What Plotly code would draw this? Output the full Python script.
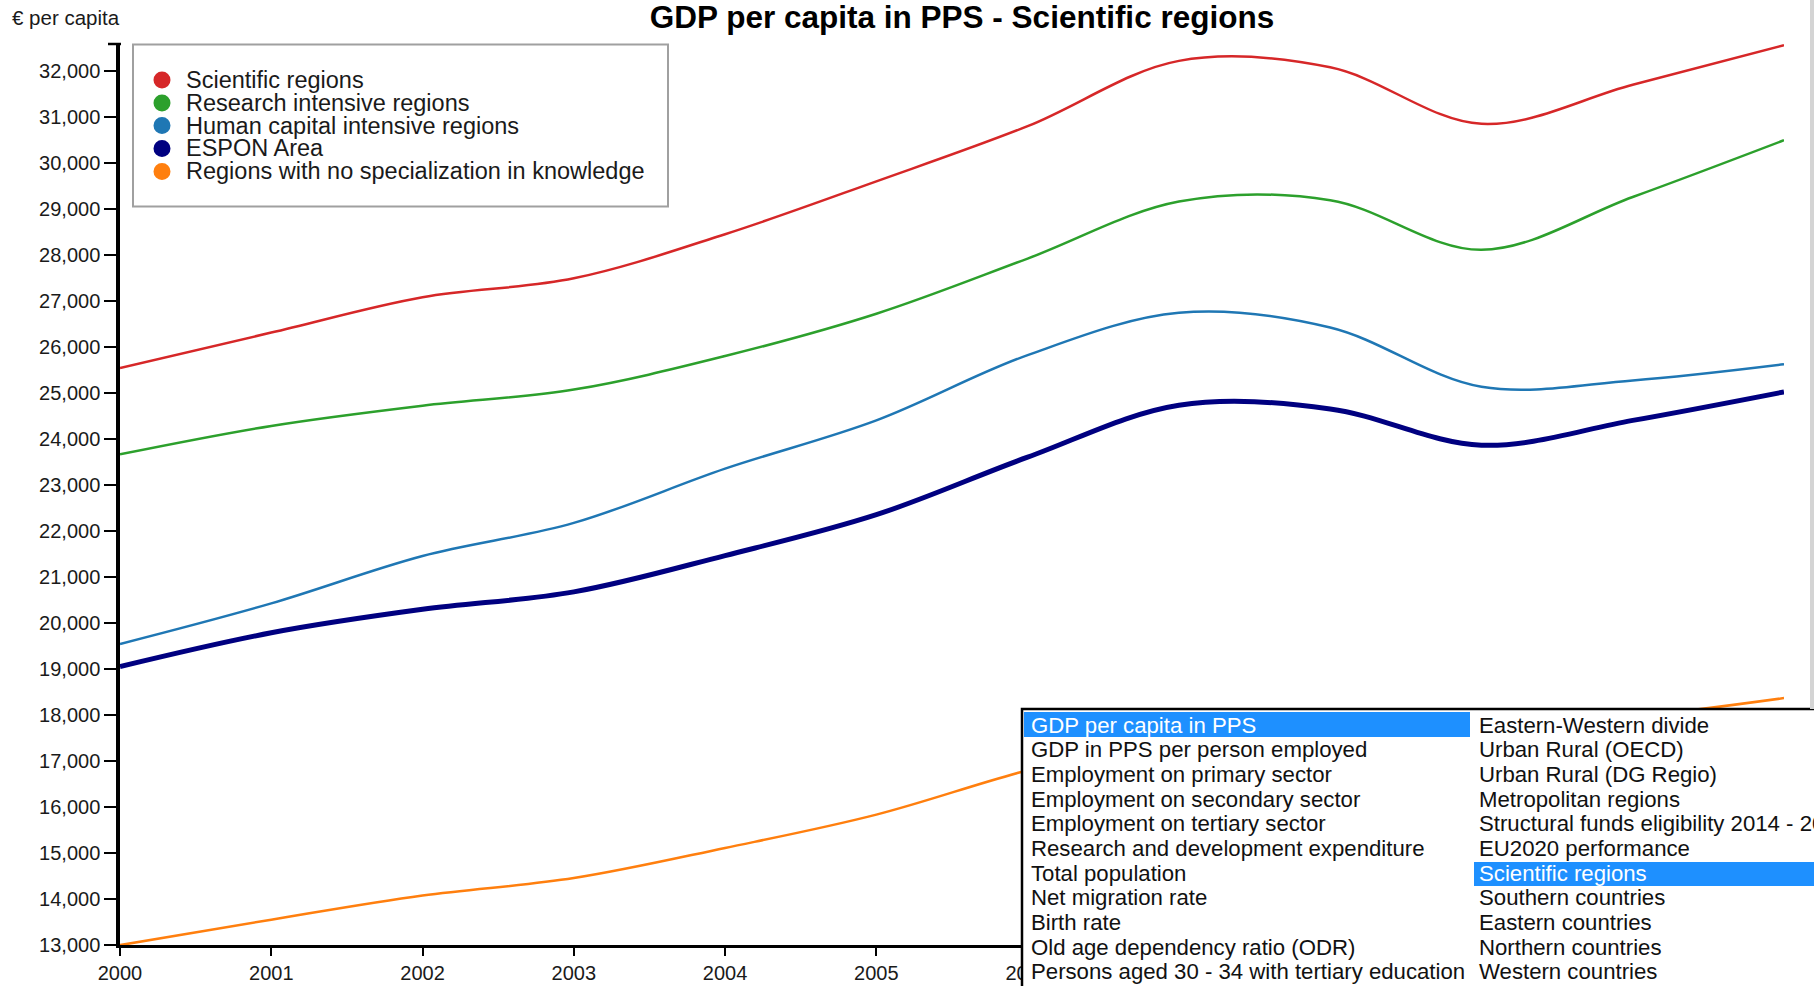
import plotly.graph_objects as go

# ---------------- data ----------------
years = [2000, 2001, 2002, 2003, 2004, 2005, 2006, 2007, 2008, 2009, 2010, 2011]

series_names = [
    "Scientific regions",
    "Research intensive regions",
    "Human capital intensive regions",
    "ESPON Area",
    "Regions with no specialization in knowledge",
]
series_colors = ["#d62728", "#2ca02c", "#1f77b4", "#000080", "#ff7f0e"]
series_widths = [2.5, 2.5, 2.5, 5, 2.5]

scientific = [25540, 26310, 27080, 27490, 28450, 29600, 30800, 32220, 32080, 30850, 31700, 32560]
research = [23662, 24280, 24720, 25070, 25800, 26720, 27920, 29160, 29190, 28110, 29260, 30495]
human_capital = [19537, 20420, 21450, 22170, 23350, 24400, 25820, 26740, 26420, 25130, 25270, 25620]
espon = [19045, 19780, 20290, 20670, 21460, 22350, 23600, 24730, 24650, 23860, 24400, 25020]
no_special = [12986, 13540, 14065, 14445, 15100, 15825, 16790, 17550, 17950, 17700, 17950, 18360]
series_values = [scientific, research, human_capital, espon, no_special]

y_ticks = list(range(13000, 33000, 1000))

title_text = "GDP per capita in PPS - Scientific regions"
y_unit = "€ per capita"

list_col1 = [
    "GDP per capita in PPS",
    "GDP in PPS per person employed",
    "Employment on primary sector",
    "Employment on secondary sector",
    "Employment on tertiary sector",
    "Research and development expenditure",
    "Total population",
    "Net migration rate",
    "Birth rate",
    "Old age dependency ratio (ODR)",
    "Persons aged 30 - 34 with tertiary education",
]
list_col2 = [
    "Eastern-Western divide",
    "Urban Rural (OECD)",
    "Urban Rural (DG Regio)",
    "Metropolitan regions",
    "Structural funds eligibility 2014 - 2020",
    "EU2020 performance",
    "Scientific regions",
    "Southern countries",
    "Eastern countries",
    "Northern countries",
    "Western countries",
]
selected_col1 = 0
selected_col2 = 6

# ---------------- layout helpers (pixel -> paper) ----------------
W, H = 1814, 986
ML, MR, MT, MB = 120, 30, 44, 41
PW = W - ML - MR
PH = H - MT - MB


def px(x):
    return (x - ML) / PW


def py(y):
    return (H - MB - y) / PH


FONT = "Liberation Sans, Arial, sans-serif"

fig = go.Figure()
for name, vals, col, lw in zip(series_names, series_values, series_colors, series_widths):
    fig.add_trace(go.Scatter(
        x=years, y=vals, name=name, mode="lines",
        line=dict(color=col, width=lw, shape="spline", smoothing=1.0),
        showlegend=False, hoverinfo="x+y+name",
    ))

shapes = []
annotations = []

# legend box
shapes.append(dict(type="rect", xref="paper", yref="paper",
                   x0=px(133), x1=px(668), y0=py(44.5), y1=py(206.5),
                   line=dict(color="#a0a0a0", width=2), fillcolor="white", layer="above"))
leg_rows = [79.9, 102.9, 125.6, 148.4, 171.4]
for name, col, ry in zip(series_names, series_colors, leg_rows):
    r = 8.5
    shapes.append(dict(type="circle", xref="paper", yref="paper",
                       x0=px(162 - r), x1=px(162 + r), y0=py(ry + r), y1=py(ry - r),
                       fillcolor=col, line=dict(width=0), layer="above"))
    annotations.append(dict(text=name, xref="paper", yref="paper", x=px(184), y=py(ry),
                            xanchor="left", yanchor="middle", showarrow=False,
                            font=dict(family=FONT, size=23.5, color="#1a1a1a")))

# top outer tick of y axis
shapes.append(dict(type="line", xref="paper", yref="paper", x0=px(108), x1=px(121),
                   y0=py(44), y1=py(44), line=dict(color="black", width=2.5)))

# list box overlay
shapes.append(dict(type="rect", xref="paper", yref="paper",
                   x0=px(1022), x1=px(1860), y0=py(709), y1=py(1020),
                   line=dict(color="black", width=2.5), fillcolor="white", layer="above"))
shapes.append(dict(type="rect", xref="paper", yref="paper",
                   x0=px(1024), x1=px(1470), y0=py(712), y1=py(737),
                   line=dict(width=0), fillcolor="#1e90ff", layer="above"))
shapes.append(dict(type="rect", xref="paper", yref="paper",
                   x0=px(1474), x1=px(1860), y0=py(862), y1=py(886),
                   line=dict(width=0), fillcolor="#1e90ff", layer="above"))
# right gray edge
shapes.append(dict(type="rect", xref="paper", yref="paper",
                   x0=px(1810), x1=px(1816), y0=py(0), y1=py(709),
                   line=dict(width=0), fillcolor="#d4d4d4", layer="above"))

row0, pitch = 725, 24.7
for i, t in enumerate(list_col1):
    annotations.append(dict(text=t, xref="paper", yref="paper", x=px(1029), y=py(row0 + i * pitch),
                            xanchor="left", yanchor="middle", showarrow=False,
                            font=dict(family=FONT, size=22.2,
                                      color="white" if i == selected_col1 else "#111")))
for i, t in enumerate(list_col2):
    annotations.append(dict(text=t, xref="paper", yref="paper", x=px(1477), y=py(row0 + i * pitch),
                            xanchor="left", yanchor="middle", showarrow=False,
                            font=dict(family=FONT, size=22.2,
                                      color="white" if i == selected_col2 else "#111")))

# y unit label
annotations.append(dict(text=y_unit, xref="paper", yref="paper", x=px(10), y=py(17),
                        xanchor="left", yanchor="middle", showarrow=False,
                        font=dict(family=FONT, size=20.5, color="#1a1a1a")))

# y range from tick pixel calibration: 32,000 at y=71, 13,000 at y=944.5
pix_per_unit = (944.5 - 71) / 19000
y_bottom = 13000 - ((H - MB) - 944.5) / pix_per_unit
y_top = 32000 + (71 - MT) / pix_per_unit

fig.update_layout(
    width=W, height=H,
    margin=dict(l=ML, r=MR, t=MT, b=MB, pad=0),
    paper_bgcolor="white", plot_bgcolor="white",
    title=dict(text="<b>" + title_text + "</b>", x=962 / W, xref="container", xanchor="center",
               y=1 - 17 / H, yref="container", yanchor="middle", automargin=False,
               font=dict(family=FONT, size=31.5, color="black")),
    xaxis=dict(range=[2000, 2011], tickvals=years, ticktext=[str(y) for y in years],
               automargin=False,
               showgrid=False, zeroline=False, showline=True, linecolor="black", linewidth=3,
               ticks="outside", ticklen=8, tickwidth=2, tickcolor="black",
               tickfont=dict(family=FONT, size=20, color="#1a1a1a")),
    yaxis=dict(range=[y_bottom, y_top], tickvals=y_ticks, tickformat=",",
               automargin=False,
               showgrid=False, zeroline=False, showline=True, linecolor="black", linewidth=3.5,
               ticks="outside", ticklen=12, tickwidth=2, tickcolor="black",
               ticklabelstandoff=0,
               tickfont=dict(family=FONT, size=20, color="#1a1a1a")),
    shapes=shapes,
    annotations=annotations,
    font=dict(family=FONT),
)

fig.write_html("out.html", config={"displayModeBar": False},
               post_script="document.body.style.margin='0';document.body.style.overflow='hidden';")
